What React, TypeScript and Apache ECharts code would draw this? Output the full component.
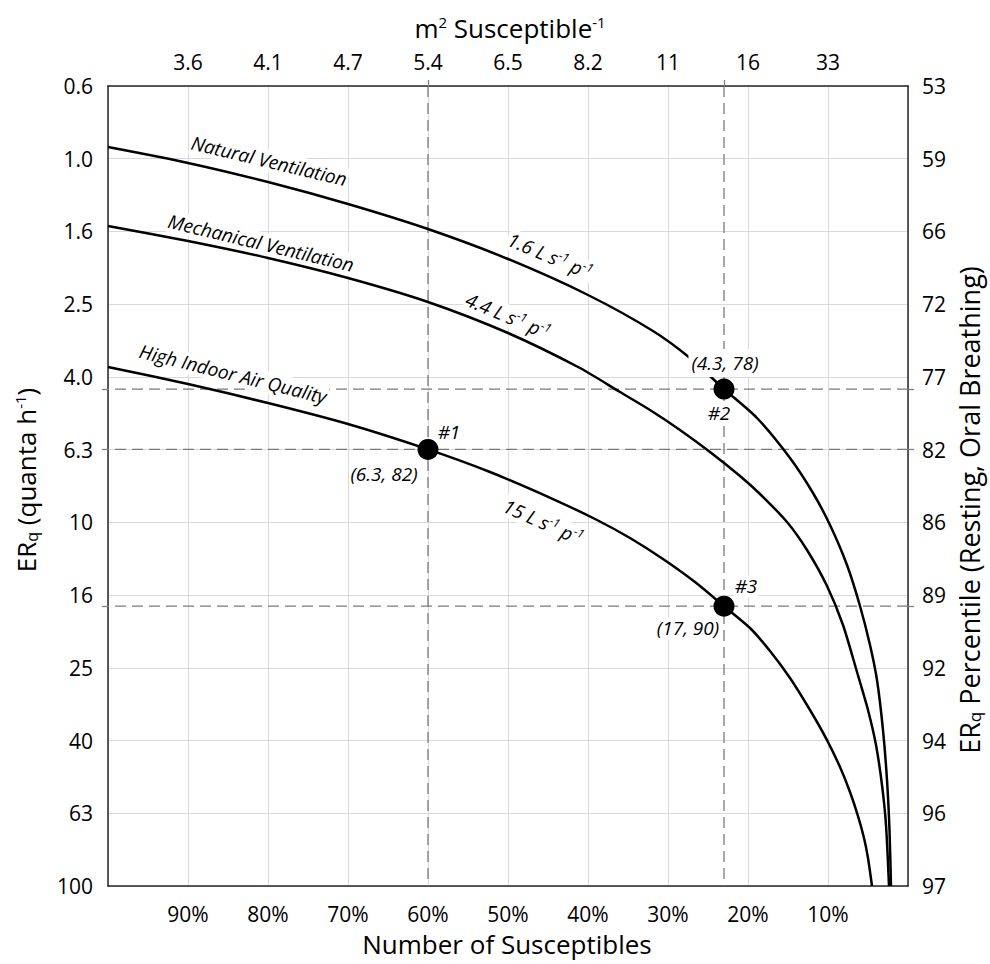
import React, { useEffect, useRef } from 'react';
import * as echarts from 'echarts';

// ---- tick labels ----
const pctTickValues = [90, 80, 70, 60, 50, 40, 30, 20, 10];
const pctTickLabels = ['90%', '80%', '70%', '60%', '50%', '40%', '30%', '20%', '10%'];
const m2TickLabels = ['3.6', '4.1', '4.7', '5.4', '6.5', '8.2', '11', '16', '33'];
const erTickLabels = ['0.6', '1.0', '1.6', '2.5', '4.0', '6.3', '10', '16', '25', '40', '63', '100'];
const percentileTickLabels = ['53', '59', '66', '72', '77', '82', '86', '89', '92', '94', '96', '97'];

// ---- curves: [number of susceptibles (%), ER_q (quanta/h)] ----
const naturalVent = [
  [100, 0.929], [90, 1.027], [80, 1.159], [70, 1.332], [60, 1.561], [50, 1.887],
  [40, 2.37], [31.875, 2.977], [27.25, 3.532], [23, 4.3], [18.875, 5.164], [14.75, 6.653],
  [11.875, 8.303], [9.75, 10.17], [7.625, 13.1], [6.0, 16.98], [4.75, 21.74], [3.875, 27.14],
  [3.125, 37.24], [2.625, 51.11], [2.3125, 70.15], [2.125, 100],
];
const mechanicalVent = [
  [100, 1.531], [90, 1.684], [80, 1.875], [70, 2.128], [60, 2.477], [50, 3.015],
  [41, 3.763], [36, 4.381], [32.25, 4.909], [28.5, 5.572], [24.75, 6.406], [21, 7.457],
  [18.5, 8.356], [15.125, 9.977], [12.625, 11.91], [10.125, 14.96], [8.125, 19.15],
  [6.375, 25.79], [5.0, 32.81], [4.0, 40.95], [3.25, 52.76], [2.75, 67.96], [2.375, 100],
];
const highIAQ = [
  [100, 3.739], [90, 4.164], [80, 4.697], [70, 5.365], [60, 6.3], [52.25, 7.27],
  [44.375, 8.627], [38.875, 9.851], [34.75, 11.04], [30.625, 12.61], [26.625, 14.59],
  [23, 17], [19.75, 19.52], [17.25, 22.58], [14.75, 26.79], [12.25, 32.81], [10.125, 39.69],
  [8.5, 47.08], [7.25, 55.14], [6.25, 64.21], [5.5, 73.79], [5.0, 83.75], [4.5, 100],
];

// ---- highlighted scenarios ----
const scenarioPoints = [[60, 6.3], [23, 4.3], [23, 17]];
const refPercent = [60, 23];
const refER = [4.3, 6.3, 17];

const FONT = 'Open Sans';

const lg = (v: number) => Math.log10(v);
const toLog = (d: number[][]) => d.map(([p, e]) => [p, lg(e)]);

const pctFmt = (labels: string[]) => (v: number) => {
  const i = pctTickValues.indexOf(Math.round(v));
  return i >= 0 ? labels[i] : '';
};
const erFmt = (labels: string[]) => (v: number) => {
  const i = Math.round((v + 0.2) / 0.2);
  return labels[i] ?? '';
};

const richItalic = {
  s: { fontSize: 12, fontStyle: 'italic', fontFamily: FONT, lineHeight: 11, verticalAlign: 'top', fill: '#000' },
  t: { fontSize: 19, fontStyle: 'italic', fontFamily: FONT, lineHeight: 22, fill: '#000' },
};
const makeRichTitle = (size: number) => ({
  t: { fontSize: size, fontFamily: FONT, lineHeight: 28, fill: '#000' },
  sup: { fontSize: Math.round(size * 0.58), fontFamily: FONT, lineHeight: 15, verticalAlign: 'top', fill: '#000' },
  sub: { fontSize: Math.round(size * 0.62), fontFamily: FONT, lineHeight: 14, verticalAlign: 'bottom', fill: '#000' },
});

const deg = (d: number) => (d * Math.PI) / 180;

function italicText(x: number, y: number, rotDeg: number, text: string, pad: number[] = [0, 1]) {
  return {
    type: 'text', x, y, rotation: deg(rotDeg), z: 100,
    style: {
      text, rich: richItalic, fill: '#000', fontSize: 19, fontStyle: 'italic', fontFamily: FONT,
      align: 'center', verticalAlign: 'middle', backgroundColor: '#fff', padding: pad,
    },
  };
}
function titleText(x: number, y: number, rotDeg: number, text: string, size = 26) {
  return {
    type: 'text', x, y, rotation: deg(rotDeg), z: 100,
    style: {
      text, rich: makeRichTitle(size), fill: '#000', fontSize: size, fontFamily: FONT,
      align: 'center', verticalAlign: 'middle',
    },
  };
}

export default function App() {
  const ref = useRef<HTMLDivElement>(null);
  useEffect(() => {
    if (!ref.current) return;
    const chart = echarts.init(ref.current, undefined, { renderer: 'svg' });
    const axisLabelStyle = { fontFamily: FONT, fontSize: 21, color: '#000' };
    const borderLine = { show: true, onZero: false, lineStyle: { color: '#262626', width: 1.5 } };
    const hiddenLine = { show: false, onZero: false };
    const refTick = (vals: number[]) => ({
      show: true, customValues: vals, length: 6, lineStyle: { color: '#808080', width: 1.3 },
    });

    const refSeries: any[] = [];
    refPercent.forEach((p) =>
      refSeries.push({
        type: 'line', data: [[p, -0.2], [p, 2]], symbol: 'none', silent: true, z: 1,
        lineStyle: { color: '#7a7a7a', width: 1.3, type: [11, 6] },
      })
    );
    refER.forEach((e) =>
      refSeries.push({
        type: 'line', data: [[0, lg(e)], [100, lg(e)]], symbol: 'none', silent: true, z: 1,
        lineStyle: { color: '#7a7a7a', width: 1.3, type: [11, 6] },
      })
    );

    const curve = (d: number[][]) => ({
      type: 'line', data: toLog(d), symbol: 'none', smooth: 0.25, z: 3,
      lineStyle: { color: '#000', width: 2.5 },
    });

    chart.setOption({
      animation: false,
      backgroundColor: '#fff',
      grid: { show: false, left: 108, right: 82, top: 86, bottom: 78 },
      xAxis: [
        {
          type: 'value', position: 'bottom', min: 0, max: 100, interval: 10, inverse: true,
          axisLine: borderLine, axisTick: { show: false },
          axisLabel: { ...axisLabelStyle, margin: 17, formatter: pctFmt(pctTickLabels) },
          splitLine: { show: true, lineStyle: { color: '#d9d9d9', width: 1 } },
        },
        {
          type: 'value', position: 'top', min: 0, max: 100, interval: 10, inverse: true,
          axisLine: borderLine, axisTick: { show: false },
          axisLabel: { ...axisLabelStyle, margin: 14, formatter: pctFmt(m2TickLabels) },
          splitLine: { show: false },
        },
        {
          type: 'value', position: 'top', min: 0, max: 100, inverse: true,
          axisLine: hiddenLine, axisLabel: { show: false }, splitLine: { show: false },
          axisTick: refTick(refPercent),
        },
      ],
      yAxis: [
        {
          type: 'value', position: 'left', min: -0.2, max: 2, interval: 0.2, inverse: true,
          axisLine: borderLine, axisTick: { show: false },
          axisLabel: { ...axisLabelStyle, margin: 15, formatter: erFmt(erTickLabels) },
          splitLine: { show: true, lineStyle: { color: '#d9d9d9', width: 1 } },
        },
        {
          type: 'value', position: 'right', min: -0.2, max: 2, interval: 0.2, inverse: true,
          axisLine: borderLine, axisTick: { show: false },
          axisLabel: { ...axisLabelStyle, margin: 14, formatter: erFmt(percentileTickLabels) },
          splitLine: { show: false },
        },
        {
          type: 'value', position: 'left', min: -0.2, max: 2, inverse: true,
          axisLine: hiddenLine, axisLabel: { show: false }, splitLine: { show: false },
          axisTick: refTick(refER.map(lg)),
        },
        {
          type: 'value', position: 'right', min: -0.2, max: 2, inverse: true,
          axisLine: hiddenLine, axisLabel: { show: false }, splitLine: { show: false },
          axisTick: refTick(refER.map(lg)),
        },
      ],
      series: [
        ...refSeries,
        curve(naturalVent),
        curve(mechanicalVent),
        curve(highIAQ),
        {
          type: 'scatter', data: toLog(scenarioPoints), symbol: 'circle', symbolSize: 21, z: 5,
          itemStyle: { color: '#000', opacity: 1 },
        },
      ],
      graphic: [
        titleText(510, 28, 0, '{t|m}{sup|2}{t| Susceptible}{sup|-1}'),
        titleText(507, 944, 0, '{t|Number of Susceptibles}'),
        titleText(26, 480, 90, '{t|ER}{sub|q}{t| (quanta h}{sup|-1}{t|)}'),
        titleText(969, 510, 90, '{t|ER}{sub|q}{t| Percentile (Resting, Oral Breathing)}', 27),
        italicText(269, 161, -13.5, '{t|Natural Ventilation}'),
        italicText(261, 243, -13.5, '{t|Mechanical Ventilation}'),
        italicText(233, 374, -14, '{t|High Indoor Air Quality}'),
        italicText(550, 256, -23, '{t|1.6 L s}{s|-1}{t| p}{s|-1}'),
        italicText(508, 316, -23, '{t|4.4 L s}{s|-1}{t| p}{s|-1}'),
        italicText(543, 522, -24, '{t|15 L s}{s|-1}{t| p}{s|-1}'),
        italicText(449, 432, 0, '{t|#1}'),
        italicText(384, 474, 0, '{t|(6.3, 82)}'),
        italicText(725, 363, 0, '{t|(4.3, 78)}', [3, 3]),
        italicText(719, 413, 0, '{t|#2}', [1, 2]),
        italicText(746, 586, 0, '{t|#3}'),
        italicText(688, 628, 0, '{t|(17, 90)}'),
      ],
    });
    return () => chart.dispose();
  }, []);
  return (
    <div
      ref={ref}
      style={{ position: 'fixed', left: 0, top: 0, width: 990, height: 964, background: '#fff' }}
    />
  );
}
